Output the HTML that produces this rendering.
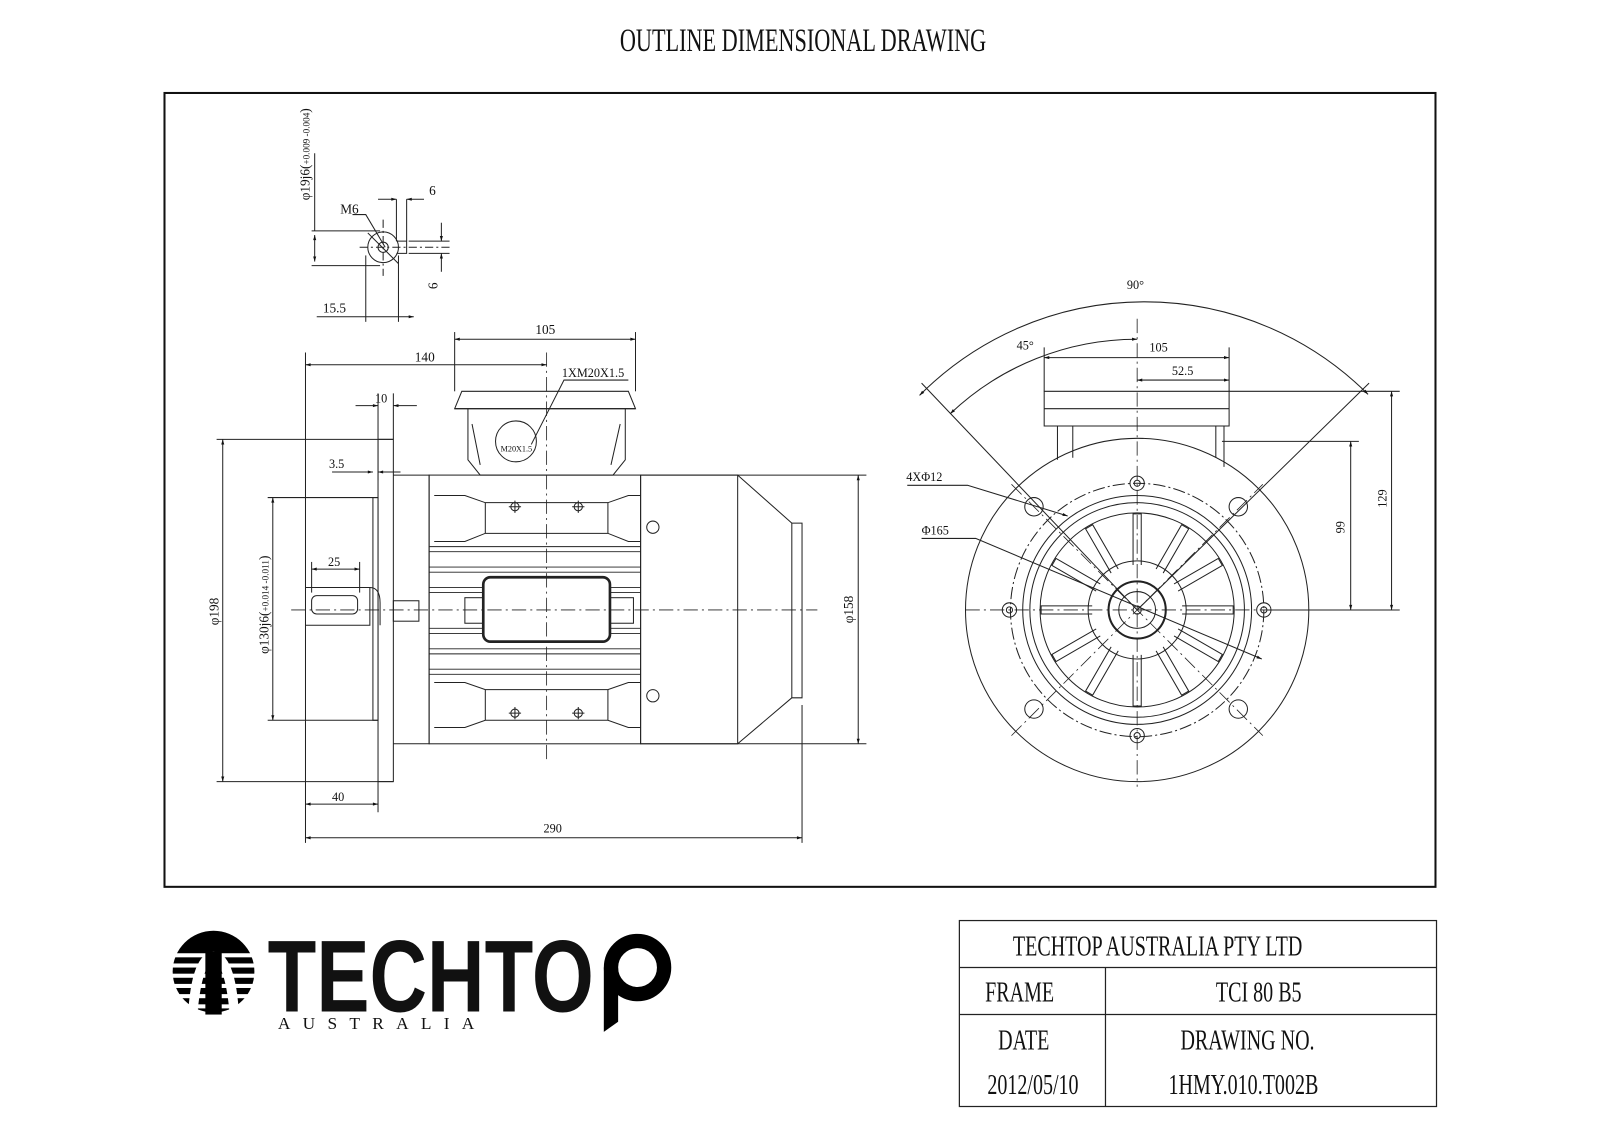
<!DOCTYPE html>
<html><head><meta charset="utf-8"><style>
html,body{margin:0;padding:0;background:#fff;}
svg{display:block;}
text{font-family:"Liberation Serif",serif;fill:#111;}
</style></head><body>
<svg width="1600" height="1131" viewBox="0 0 1600 1131" xmlns="http://www.w3.org/2000/svg">
<rect width="1600" height="1131" fill="#fff"/>
<defs>
<marker id="a" viewBox="0 0 10 10" refX="10" refY="5" markerWidth="8" markerHeight="5" orient="auto-start-reverse"><path d="M0,2 L10,5 L0,8z" fill="#111"/></marker>
</defs>
<g transform="scale(1.0217)">
<text x="786" y="50" font-size="32" text-anchor="middle" transform="translate(786,0) scale(0.68,1) translate(-786,0)">OUTLINE DIMENSIONAL DRAWING</text>
<rect x="161" y="91" width="1244" height="777" fill="none" stroke="#111" stroke-width="2"/>

<g stroke="#222" stroke-width="1" fill="none">
<circle cx="375" cy="242" r="15"/>
<circle cx="375" cy="242" r="5"/>
<path d="M388,236 H398 V248 H388"/>
<line x1="352" y1="242" x2="440" y2="242" stroke-dasharray="8,3,2,3"/>
<line x1="375" y1="215" x2="375" y2="270" stroke-dasharray="8,3,2,3"/>
<line x1="305" y1="226" x2="372" y2="226"/><line x1="305" y1="260" x2="372" y2="260"/>
<line x1="308" y1="230" x2="308" y2="256" marker-start="url(#a)" marker-end="url(#a)"/>
<line x1="308" y1="150" x2="308" y2="226"/>
<line x1="358" y1="250" x2="358" y2="315"/><line x1="390" y1="250" x2="390" y2="315"/>
<line x1="310" y1="310" x2="405" y2="310" marker-end="url(#a)"/>
<line x1="388" y1="195" x2="388" y2="236"/><line x1="398" y1="195" x2="398" y2="236"/>
<line x1="370" y1="195" x2="388" y2="195" marker-end="url(#a)"/><line x1="415" y1="195" x2="398" y2="195" marker-end="url(#a)"/>
<line x1="400" y1="236" x2="440" y2="236"/><line x1="400" y1="248" x2="440" y2="248"/>
<line x1="432" y1="218" x2="432" y2="236" marker-end="url(#a)"/><line x1="432" y1="266" x2="432" y2="248" marker-end="url(#a)"/>
<polyline points="345,210 358,210 377,242"/>
<line x1="360" y1="228" x2="390" y2="258"/>

<line x1="299" y1="345" x2="299" y2="825"/>
<line x1="299" y1="357" x2="535" y2="357" marker-start="url(#a)" marker-end="url(#a)"/>
<line x1="445" y1="325" x2="445" y2="383"/><line x1="622" y1="325" x2="622" y2="383"/>
<line x1="445" y1="332" x2="622" y2="332" marker-start="url(#a)" marker-end="url(#a)"/>
<line x1="370" y1="385" x2="370" y2="470"/><line x1="385" y1="385" x2="385" y2="430"/>
<line x1="348" y1="397" x2="370" y2="397" marker-end="url(#a)"/><line x1="408" y1="397" x2="385" y2="397" marker-end="url(#a)"/>
<line x1="325" y1="462" x2="365" y2="462" marker-end="url(#a)"/><line x1="392" y1="462" x2="370" y2="462" marker-end="url(#a)"/>
<line x1="212" y1="430" x2="385" y2="430"/><line x1="212" y1="765" x2="385" y2="765"/>
<line x1="218" y1="430" x2="218" y2="765" marker-start="url(#a)" marker-end="url(#a)"/>
<line x1="262" y1="487" x2="370" y2="487"/><line x1="262" y1="705" x2="370" y2="705"/>
<line x1="267" y1="487" x2="267" y2="705" marker-start="url(#a)" marker-end="url(#a)"/>
<line x1="305" y1="550" x2="305" y2="580"/><line x1="352" y1="550" x2="352" y2="580"/>
<line x1="305" y1="557" x2="352" y2="557" marker-start="url(#a)" marker-end="url(#a)"/>
<line x1="370" y1="765" x2="370" y2="795"/>
<line x1="299" y1="787" x2="370" y2="787" marker-start="url(#a)" marker-end="url(#a)"/>
<line x1="785" y1="690" x2="785" y2="825"/>
<line x1="299" y1="820" x2="785" y2="820" marker-start="url(#a)" marker-end="url(#a)"/>
<line x1="627" y1="465" x2="848" y2="465"/><line x1="627" y1="728" x2="848" y2="728"/>
<line x1="840" y1="465" x2="840" y2="728" marker-start="url(#a)" marker-end="url(#a)"/>
<polyline points="520,435 552,372 615,372"/>

<path d="M299,575 H362 V612 H299"/>
<rect x="305" y="583" width="45" height="18" rx="5"/>
<path d="M362,575 Q372,575 372,590 V612"/>
<rect x="365" y="487" width="5" height="218"/>
<rect x="370" y="430" width="15" height="335"/>
<path d="M385,465 H420 V728 H385"/>
<rect x="385" y="588" width="25" height="20"/>
<rect x="420" y="465" width="207" height="263"/>
<g stroke-width="0.9">
<path d="M420,535 H627 M420,540 H627 M420,555 H627 M420,560 H627 M420,575 H627 M420,580 H627 M420,615 H627 M420,620 H627 M420,635 H627 M420,640 H627 M420,655 H627 M420,660 H627"/>
</g>
<path d="M425,485 H455 L475,492 H595 L615,485 H627 M425,530 H455 L475,522 H595 L615,530 H627"/>
<path d="M425,668 H455 L475,675 H595 L615,668 H627 M425,712 H455 L475,705 H595 L615,712 H627"/>
<line x1="475" y1="492" x2="475" y2="522"/><line x1="595" y1="492" x2="595" y2="522"/>
<line x1="475" y1="675" x2="475" y2="705"/><line x1="595" y1="675" x2="595" y2="705"/>
<circle cx="504" cy="496" r="4"/><circle cx="566" cy="496" r="4"/>
<circle cx="504" cy="698" r="4"/><circle cx="566" cy="698" r="4"/>
<path d="M498,496 h12 M504,490 v12 M560,496 h12 M566,490 v12 M498,698 h12 M504,692 v12 M560,698 h12 M566,692 v12"/>
<circle cx="639" cy="516" r="6"/><circle cx="639" cy="681" r="6"/>
<rect x="455" y="585" width="165" height="25"/>
<rect x="473" y="565" width="124" height="63" rx="7" stroke-width="2.6" fill="#fff"/>
<path d="M445,400 L452,383 H615 L622,400 Z"/>
<line x1="445" y1="400" x2="622" y2="400"/>
<path d="M458,400 V450 L470,465 H600 L612,450 V400"/>
<path d="M462,415 L470,455 M607,415 L598,455"/>
<circle cx="505" cy="432" r="20"/>
<rect x="627" y="465" width="95" height="263"/>
<path d="M722,465 L775,512 H785 V683 H775 L722,728"/>
<line x1="775" y1="512" x2="775" y2="683"/>
</g>
<g stroke="#222" stroke-width="0.8" stroke-dasharray="14,4,2,4" fill="none">
<line x1="285" y1="597" x2="800" y2="597"/>
<line x1="535" y1="345" x2="535" y2="745"/>
</g>

<g stroke="#222" stroke-width="1" fill="none">
<circle cx="1113" cy="597" r="168"/>
<circle cx="1113" cy="597" r="124" stroke-dasharray="12,3,2,3"/>
<circle cx="1113" cy="597" r="112"/>
<circle cx="1113" cy="597" r="105"/>
<circle cx="1113" cy="597" r="95"/>
<circle cx="1113" cy="597" r="48"/>
<circle cx="1113" cy="597" r="28" stroke-width="2"/>
<circle cx="1113" cy="597" r="18"/>
<circle cx="1113" cy="597" r="4"/>
<g id="sp"><path d="M1109,553 L1109,503 L1117,503 L1117,553"/></g>
<use href="#sp" transform="rotate(30 1113 597)"/><use href="#sp" transform="rotate(60 1113 597)"/><use href="#sp" transform="rotate(90 1113 597)"/>
<use href="#sp" transform="rotate(120 1113 597)"/><use href="#sp" transform="rotate(150 1113 597)"/><use href="#sp" transform="rotate(180 1113 597)"/>
<use href="#sp" transform="rotate(210 1113 597)"/><use href="#sp" transform="rotate(240 1113 597)"/><use href="#sp" transform="rotate(270 1113 597)"/>
<use href="#sp" transform="rotate(300 1113 597)"/><use href="#sp" transform="rotate(330 1113 597)"/>
<circle cx="1012" cy="496" r="9"/><circle cx="1212" cy="496" r="9"/><circle cx="1012" cy="694" r="9"/><circle cx="1212" cy="694" r="9"/>
<circle cx="1113" cy="473" r="7"/><circle cx="1113" cy="473" r="3"/>
<circle cx="1113" cy="720" r="7"/><circle cx="1113" cy="720" r="3"/>
<circle cx="988" cy="597" r="7"/><circle cx="988" cy="597" r="3"/>
<circle cx="1237" cy="597" r="7"/><circle cx="1237" cy="597" r="3"/>
<path d="M1022,400 V383 H1203 V400 Z M1022,400 V417 H1203 V400"/>
<path d="M1035,417 V450 M1050,417 V448 M1190,417 V448 M1198,417 V457"/>
<line x1="1196" y1="432" x2="1330" y2="432"/>
<line x1="1203" y1="383" x2="1370" y2="383"/>
<line x1="1240" y1="597" x2="1370" y2="597"/>
<line x1="1322" y1="432" x2="1322" y2="597" marker-start="url(#a)" marker-end="url(#a)"/>
<line x1="1362" y1="383" x2="1362" y2="597" marker-start="url(#a)" marker-end="url(#a)"/>
<line x1="1022" y1="340" x2="1022" y2="383"/><line x1="1203" y1="340" x2="1203" y2="383"/>
<line x1="1022" y1="350" x2="1203" y2="350" marker-start="url(#a)" marker-end="url(#a)"/>
<line x1="1113" y1="372" x2="1203" y2="372" marker-start="url(#a)" marker-end="url(#a)"/>
<line x1="902" y1="375" x2="1113" y2="597"/>
<line x1="1340" y1="375" x2="1113" y2="597"/>
<path d="M900,387 A310,310 0 0 1 1339,386" marker-start="url(#a)" marker-end="url(#a)"/>
<path d="M930,405 A265,265 0 0 1 1113,332" marker-start="url(#a)" marker-end="url(#a)"/>
<polyline points="888,475 947,475 1045,505" marker-end="url(#a)"/>
<polyline points="902,527 955,527 1235,645" marker-end="url(#a)"/>
</g>
<g stroke="#222" stroke-width="0.8" stroke-dasharray="14,4,2,4" fill="none">
<line x1="945" y1="597" x2="1290" y2="597"/>
<line x1="1113" y1="312" x2="1113" y2="770"/>
<line x1="990" y1="474" x2="1236" y2="720"/>
<line x1="990" y1="720" x2="1236" y2="474"/>
</g>

<g font-size="13">
<text x="420" y="191">6</text>
<text x="333" y="209">M6</text>
<text x="316" y="306">15.5</text>
<text x="428" y="283" transform="rotate(-90 428 283)">6</text>
<text x="303" y="196" transform="rotate(-90 303 196)">φ19j6(<tspan font-size="9">+0.009 -0.004</tspan>)</text>
<text x="524" y="327">105</text>
<text x="406" y="354">140</text>
<text x="550" y="369" font-size="12">1XM20X1.5</text>
<text x="367" y="394" font-size="12">10</text>
<text x="322" y="458" font-size="12">3.5</text>
<text x="321" y="554" font-size="12">25</text>
<text x="214" y="612" transform="rotate(-90 214 612)">φ198</text>
<text x="263" y="640" transform="rotate(-90 263 640)">φ130j6(<tspan font-size="9">+0.014 -0.011</tspan>)</text>
<text x="835" y="610" transform="rotate(-90 835 610)">φ158</text>
<text x="325" y="784" font-size="12">40</text>
<text x="532" y="815" font-size="12">290</text>
<text x="490" y="442" font-size="8">M20X1.5</text>
<text x="1103" y="283" font-size="12">90°</text>
<text x="995" y="342" font-size="12">45°</text>
<text x="1125" y="344" font-size="12">105</text>
<text x="1147" y="367" font-size="12">52.5</text>
<text x="887" y="471" font-size="12">4XΦ12</text>
<text x="902" y="523" font-size="12">Φ165</text>
<text x="1316" y="522" font-size="12" transform="rotate(-90 1316 522)">99</text>
<text x="1357" y="497" font-size="12" transform="rotate(-90 1357 497)">129</text>
</g>

<g stroke="#222" stroke-width="1.2" fill="none">
<rect x="939" y="901" width="467" height="182"/>
<line x1="939" y1="947" x2="1406" y2="947"/>
<line x1="939" y1="993" x2="1406" y2="993"/>
<line x1="1082" y1="947" x2="1082" y2="1083"/>
</g>
<g font-size="28">
<text transform="translate(1133,935) scale(0.7,1)" text-anchor="middle">TECHTOP AUSTRALIA PTY LTD</text>
<text transform="translate(998,980) scale(0.7,1)" text-anchor="middle">FRAME</text>
<text transform="translate(1232,980) scale(0.7,1)" text-anchor="middle">TCI 80 B5</text>
<text transform="translate(1002,1027) scale(0.7,1)" text-anchor="middle">DATE</text>
<text transform="translate(1221,1027) scale(0.7,1)" text-anchor="middle">DRAWING NO.</text>
<text transform="translate(1011,1071) scale(0.7,1)" text-anchor="middle">2012/05/10</text>
<text transform="translate(1217,1071) scale(0.7,1)" text-anchor="middle">1HMY.010.T002B</text>
</g>

<g>
<clipPath id="lc"><circle cx="209" cy="951" r="40"/></clipPath>
<g clip-path="url(#lc)" fill="#000">
<rect x="165" y="909" width="90" height="24"/>
<rect x="165" y="937" width="90" height="6"/>
<rect x="165" y="947" width="90" height="6"/>
<rect x="165" y="957" width="90" height="6"/>
<rect x="165" y="967" width="90" height="6"/>
<rect x="165" y="977" width="90" height="6"/>
<rect x="165" y="987" width="90" height="6"/>
</g>
<path d="M209,931 Q187,933 184,995 H193 Q197,946 209,940 Q221,946 225,995 H234 Q231,933 209,931Z" fill="#fff"/>
<rect x="201" y="931" width="16" height="62" fill="#000"/>
<text x="262" y="990" font-size="100" fill="#000" style="font-family:'Liberation Sans',sans-serif;font-weight:bold" transform="translate(262,0) scale(0.78,1) translate(-262,0)">TECHTO</text>
<circle cx="624" cy="947" r="26" fill="none" stroke="#000" stroke-width="14"/>
<path d="M591,947 H605 V1000 L591,1010 Z" fill="#000"/>
<text x="272" y="1007" font-size="17" letter-spacing="12">AUSTRALIA</text>
</g>
</g>
</svg>
</body></html>
